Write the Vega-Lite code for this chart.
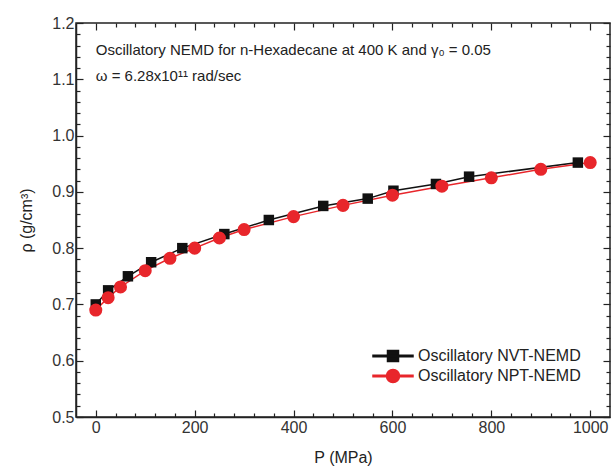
{
  "$schema": "https://vega.github.io/schema/vega-lite/v6.json",
  "width": 534,
  "height": 394,
  "autosize": {"type": "none"},
  "padding": {"left": 76, "top": 23, "right": 2, "bottom": 52},
  "background": "white",
  "config": {
    "view": {"stroke": "#222", "strokeWidth": 1.5},
    "font": "Liberation Sans",
    "axis": {
      "domainColor": "#222",
      "domainWidth": 1.5,
      "tickColor": "#222",
      "tickWidth": 1.2,
      "grid": false,
      "labelFont": "Liberation Sans",
      "labelFontSize": 16,
      "labelColor": "#333",
      "titleFont": "Liberation Sans",
      "titleFontSize": 16,
      "titleFontWeight": "normal",
      "titleColor": "#222",
      "labelOverlap": false,
      "labelFlush": false
    }
  },
  "datasets": {
    "rho": [
      {"P": 0, "rho": 0.700, "series": "Oscillatory NVT-NEMD"},
      {"P": 25, "rho": 0.725, "series": "Oscillatory NVT-NEMD"},
      {"P": 65, "rho": 0.750, "series": "Oscillatory NVT-NEMD"},
      {"P": 112, "rho": 0.775, "series": "Oscillatory NVT-NEMD"},
      {"P": 175, "rho": 0.800, "series": "Oscillatory NVT-NEMD"},
      {"P": 260, "rho": 0.825, "series": "Oscillatory NVT-NEMD"},
      {"P": 350, "rho": 0.850, "series": "Oscillatory NVT-NEMD"},
      {"P": 460, "rho": 0.875, "series": "Oscillatory NVT-NEMD"},
      {"P": 550, "rho": 0.888, "series": "Oscillatory NVT-NEMD"},
      {"P": 602, "rho": 0.902, "series": "Oscillatory NVT-NEMD"},
      {"P": 688, "rho": 0.914, "series": "Oscillatory NVT-NEMD"},
      {"P": 755, "rho": 0.927, "series": "Oscillatory NVT-NEMD"},
      {"P": 975, "rho": 0.952, "series": "Oscillatory NVT-NEMD"},
      {"P": 0, "rho": 0.690, "series": "Oscillatory NPT-NEMD"},
      {"P": 25, "rho": 0.712, "series": "Oscillatory NPT-NEMD"},
      {"P": 50, "rho": 0.731, "series": "Oscillatory NPT-NEMD"},
      {"P": 100, "rho": 0.760, "series": "Oscillatory NPT-NEMD"},
      {"P": 150, "rho": 0.782, "series": "Oscillatory NPT-NEMD"},
      {"P": 200, "rho": 0.800, "series": "Oscillatory NPT-NEMD"},
      {"P": 250, "rho": 0.818, "series": "Oscillatory NPT-NEMD"},
      {"P": 300, "rho": 0.833, "series": "Oscillatory NPT-NEMD"},
      {"P": 400, "rho": 0.856, "series": "Oscillatory NPT-NEMD"},
      {"P": 500, "rho": 0.876, "series": "Oscillatory NPT-NEMD"},
      {"P": 600, "rho": 0.894, "series": "Oscillatory NPT-NEMD"},
      {"P": 700, "rho": 0.910, "series": "Oscillatory NPT-NEMD"},
      {"P": 800, "rho": 0.925, "series": "Oscillatory NPT-NEMD"},
      {"P": 900, "rho": 0.940, "series": "Oscillatory NPT-NEMD"},
      {"P": 1000, "rho": 0.952, "series": "Oscillatory NPT-NEMD"}
    ]
  },
  "resolve": {"axis": {"x": "independent", "y": "independent"}},
  "layer": [
    {
      "data": {"name": "rho"},
      "mark": {"type": "line", "strokeWidth": 1.5},
      "encoding": {
        "x": {
          "field": "P", "type": "quantitative",
          "scale": {"domain": [-40, 1040], "nice": false, "zero": false},
          "axis": {
            "title": "P (MPa)",
            "format": "d",
            "values": [0,40,80,120,160,200,240,280,320,360,400,440,480,520,560,600,640,680,720,760,800,840,880,920,960,1000],
            "labelExpr": "datum.value % 200 === 0 ? datum.label : ''",
            "tickSize": {"condition": {"test": "datum.value % 200 === 0", "value": -7}, "value": -4},
            "labelPadding": 9,
            "titleBaseline": "alphabetic",
            "titleY": 45
          }
        },
        "y": {
          "field": "rho", "type": "quantitative",
          "scale": {"domain": [0.5, 1.2], "nice": false, "zero": false},
          "axis": {
            "title": "ρ (g/cm³)",
            "values": [0.5,0.52,0.54,0.56,0.58,0.6,0.62,0.64,0.66,0.68,0.7,0.72,0.74,0.76,0.78,0.8,0.82,0.84,0.86,0.88,0.9,0.92,0.94,0.96,0.98,1.0,1.02,1.04,1.06,1.08,1.1,1.12,1.14,1.16,1.18,1.2],
            "format": ".1f",
            "labelExpr": "abs(datum.value*10 - round(datum.value*10)) < 0.001 ? datum.label : ''",
            "tickSize": {"condition": {"test": "abs(datum.value*10 - round(datum.value*10)) < 0.001", "value": -7}, "value": -4},
            "labelPadding": 9,
            "titleBaseline": "bottom",
            "titleX": -42,
            "titleY": 197
          }
        },
        "color": {
          "field": "series", "type": "nominal",
          "scale": {"domain": ["Oscillatory NVT-NEMD", "Oscillatory NPT-NEMD"], "range": ["#111111", "#e8262b"]},
          "legend": {
            "title": null,
            "orient": "none",
            "legendX": 306,
            "legendY": 322,
            "padding": 0,
            "rowPadding": 0,
            "symbolSize": 400,
            "labelOffset": 14,
            "labelFont": "Liberation Sans",
            "labelFontSize": 16,
            "labelColor": "#222",
            "labelLimit": 300,
            "symbolType": "M-2,-0.075H2V0.075H-2ZM-0.55,-0.55H0.55V0.55H-0.55Z",
            "encode": {
              "symbols": {
                "update": {
                  "shape": {"signal": "datum.value === 'Oscillatory NVT-NEMD' ? 'M-2,-0.075H2V0.075H-2ZM-0.55,-0.55H0.55V0.55H-0.55Z' : 'M-2,-0.075H2V0.075H-2ZM-0.65,0A0.65,0.65 0 1,1 0.65,0A0.65,0.65 0 1,1 -0.65,0Z'"}
                }
              }
            }
          }
        },
        "order": {"field": "P", "type": "quantitative"}
      }
    },
    {
      "data": {"name": "rho"},
      "transform": [{"filter": "datum.series === 'Oscillatory NVT-NEMD'"}],
      "mark": {"type": "point", "filled": true, "opacity": 1, "shape": "square", "size": 110},
      "encoding": {
        "x": {"field": "P", "type": "quantitative", "axis": null},
        "y": {"field": "rho", "type": "quantitative", "axis": null},
        "color": {"field": "series", "type": "nominal"}
      }
    },
    {
      "data": {"name": "rho"},
      "transform": [{"filter": "datum.series === 'Oscillatory NPT-NEMD'"}],
      "mark": {"type": "point", "filled": true, "opacity": 1, "shape": "circle", "size": 170},
      "encoding": {
        "x": {"field": "P", "type": "quantitative", "axis": null},
        "y": {"field": "rho", "type": "quantitative", "axis": null},
        "color": {"field": "series", "type": "nominal"}
      }
    },
    {
      "data": {"name": "rho"},
      "mark": {"type": "point", "opacity": 0},
      "encoding": {
        "x": {
          "field": "P", "type": "quantitative",
          "axis": {
            "orient": "top", "title": null, "labels": false, "domain": false,
            "values": [0,40,80,120,160,200,240,280,320,360,400,440,480,520,560,600,640,680,720,760,800,840,880,920,960,1000],
            "tickSize": {"condition": {"test": "datum.value % 200 === 0", "value": -7}, "value": -4}
          }
        },
        "y": {
          "field": "rho", "type": "quantitative",
          "axis": {
            "orient": "right", "title": null, "labels": false, "domain": false,
            "values": [0.5,0.52,0.54,0.56,0.58,0.6,0.62,0.64,0.66,0.68,0.7,0.72,0.74,0.76,0.78,0.8,0.82,0.84,0.86,0.88,0.9,0.92,0.94,0.96,0.98,1.0,1.02,1.04,1.06,1.08,1.1,1.12,1.14,1.16,1.18,1.2],
            "tickSize": {"condition": {"test": "abs(datum.value*10 - round(datum.value*10)) < 0.001", "value": -7}, "value": -4}
          }
        }
      }
    },
    {
      "data": {"values": [{}]},
      "mark": {"type": "text", "align": "left", "baseline": "alphabetic", "font": "Liberation Sans", "fontSize": 15, "color": "#222"},
      "encoding": {
        "x": {"datum": 0, "type": "quantitative", "axis": null},
        "y": {"datum": 1.1426, "type": "quantitative", "axis": null},
        "text": {"value": "Oscillatory NEMD for n-Hexadecane at 400 K and γ₀ = 0.05"}
      }
    },
    {
      "data": {"values": [{}]},
      "mark": {"type": "text", "align": "left", "baseline": "alphabetic", "font": "Liberation Sans", "fontSize": 15, "color": "#222"},
      "encoding": {
        "x": {"datum": 0, "type": "quantitative", "axis": null},
        "y": {"datum": 1.097, "type": "quantitative", "axis": null},
        "text": {"value": "ω = 6.28x10¹¹ rad/sec"}
      }
    }
  ]
}
